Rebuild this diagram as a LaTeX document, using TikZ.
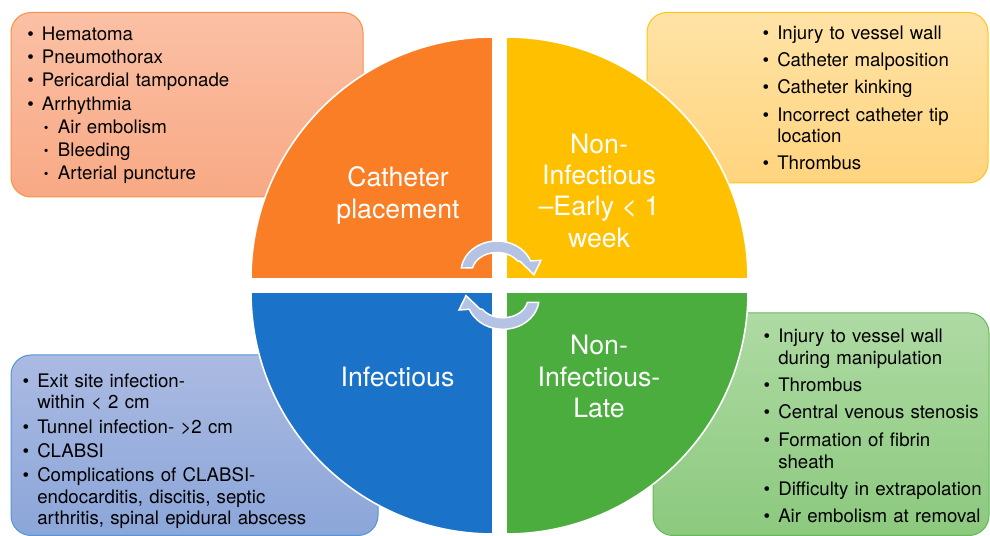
\documentclass[tikz,border=0pt]{standalone}
\usepackage{fontspec}
\setmainfont{TeX Gyre Heros}

\definecolor{catorange}{HTML}{F97E26}
\definecolor{earlyyellow}{HTML}{FFC000}
\definecolor{infblue}{HTML}{1A73C9}
\definecolor{lategreen}{HTML}{4AAD3D}
\definecolor{turnblue}{HTML}{B4C2E4}
\definecolor{orangetop}{HTML}{FBC0A5}
\definecolor{orangebot}{HTML}{F8A984}
\definecolor{yellowtop}{HTML}{FFE3A6}
\definecolor{yellowbot}{HTML}{FFD47E}
\definecolor{bluetop}{HTML}{ABBAE2}
\definecolor{bluebot}{HTML}{8BA6D9}
\definecolor{greentop}{HTML}{AEDAA3}
\definecolor{greenbot}{HTML}{8CC97E}

% bullet list used in the four boxes, #1 = space between items
\newenvironment{itemlist}[1]{%
  \begin{list}{\textbullet}{%
    \setlength{\leftmargin}{11.25pt}%
    \setlength{\labelsep}{6pt}%
    \setlength{\labelwidth}{5.25pt}%
    \setlength{\itemsep}{#1}%
    \setlength{\parsep}{0pt}%
    \setlength{\topsep}{0pt}%
    \setlength{\partopsep}{0pt}}}%
  {\end{list}}
\newenvironment{sublist}{%
  \begin{list}{\raisebox{0.8pt}{\fontsize{10}{10}\selectfont\textbullet}}{%
    \setlength{\leftmargin}{12pt}%
    \setlength{\labelsep}{7pt}%
    \setlength{\labelwidth}{5pt}%
    \setlength{\itemsep}{0pt}%
    \setlength{\parsep}{0pt}%
    \setlength{\topsep}{0pt}%
    \setlength{\partopsep}{0pt}}}%
  {\end{list}}

% circular arrow in the middle, drawn round its own centre
\tikzset{turnarrow/.pic={
  \filldraw[fill=turnblue, draw=white, line width=1.1pt]
    (168:25 and 19.5) -- (172.6:36 and 31)
    arc[start angle=172.6, end angle=20.8, x radius=36, y radius=31]
    -- (44,11.7) -- (37,-2.7) -- (23,10.7) -- (34.3:25 and 19.5)
    arc[start angle=34.3, end angle=168, x radius=25, y radius=19.5] -- cycle;
}}

\begin{document}
\begin{tikzpicture}[x=0.75pt,y=0.75pt]
\tikzstyle{box}=[rounded corners=15pt, line width=0.75pt]
\tikzstyle{sector}=[draw=white, line width=1.2pt]
\tikzstyle{quadtext}=[text=white, align=center, inner sep=0pt, font=\fontsize{20}{23.5}\selectfont]
\tikzstyle{listtext}=[anchor=north west, inner sep=0pt, text width=260pt]
\useasboundingbox (0,0) rectangle (990,536);

% boxes behind the circle
\draw[box, draw=catorange!85, top color=orangetop, bottom color=orangebot] (11,523.5) rectangle (363,339);
\draw[box, draw=earlyyellow!90, top color=yellowtop, bottom color=yellowbot] (647,523.5) rectangle (988,353);
\draw[box, draw=infblue!75, top color=bluetop, bottom color=bluebot] (11,181) rectangle (378,0.5);
\draw[box, draw=lategreen!85, top color=greentop, bottom color=greenbot] (653,223) rectangle (989,0.5);

% the four quarters
\filldraw[sector, fill=catorange] (493,257) -- ++(-242,0) arc[start angle=180, end angle=90, radius=242] -- cycle;
\filldraw[sector, fill=earlyyellow] (506,257) -- ++(0,242) arc[start angle=90, end angle=0, radius=242] -- cycle;
\filldraw[sector, fill=infblue] (493,244) -- ++(-242,0) arc[start angle=180, end angle=270, radius=242] -- cycle;
\filldraw[sector, fill=lategreen] (506,244) -- ++(242,0) arc[start angle=0, end angle=-90, radius=242] -- cycle;

\node[quadtext] (placement) at (398,340.5) {Catheter\\placement};
\node[quadtext] (early) at (599,345.5) {Non-\\Infectious\\–Early < 1\\week};
\node[quadtext] (infect) at (397.5,159) {Infectious};
\node[quadtext] (late) at (599,159.5) {Non-\\Infectious-\\Late};

\pic at (497,264) {turnarrow};
\pic[rotate=180] at (503,237.7) {turnarrow};

\node[listtext, font=\fontsize{14}{17.4}\selectfont] (placementlist) at (26.7,519) {%
  \begin{itemlist}{0pt}
  \item Hematoma
  \item Pneumothorax
  \item Pericardial tamponade
  \item Arrhythmia
    \begin{sublist}
    \item Air embolism
    \item Bleeding
    \item Arterial puncture
    \end{sublist}
  \end{itemlist}};
\node[listtext, font=\fontsize{14}{15.75}\selectfont] (earlylist) at (762,518) {%
  \begin{itemlist}{4.7pt}
  \item Injury to vessel wall
  \item Catheter malposition
  \item Catheter kinking
  \item Incorrect catheter tip\\location
  \item Thrombus
  \end{itemlist}};
\node[listtext, font=\fontsize{14}{16}\selectfont] (infectlist) at (22,170) {%
  \begin{itemlist}{2.2pt}
  \item Exit site infection-\\within < 2 cm
  \item Tunnel infection- >2 cm
  \item CLABSI
  \item Complications of CLABSI-\\endocarditis, discitis, septic\\arthritis, spinal epidural abscess
  \end{itemlist}};
\node[listtext, font=\fontsize{14}{16.5}\selectfont] (latelist) at (763,216) {%
  \begin{itemlist}{4pt}
  \item Injury to vessel wall\\during manipulation
  \item Thrombus
  \item Central venous stenosis
  \item Formation of fibrin\\sheath
  \item Difficulty in extrapolation
  \item Air embolism at removal
  \end{itemlist}};
\end{tikzpicture}
\end{document}
